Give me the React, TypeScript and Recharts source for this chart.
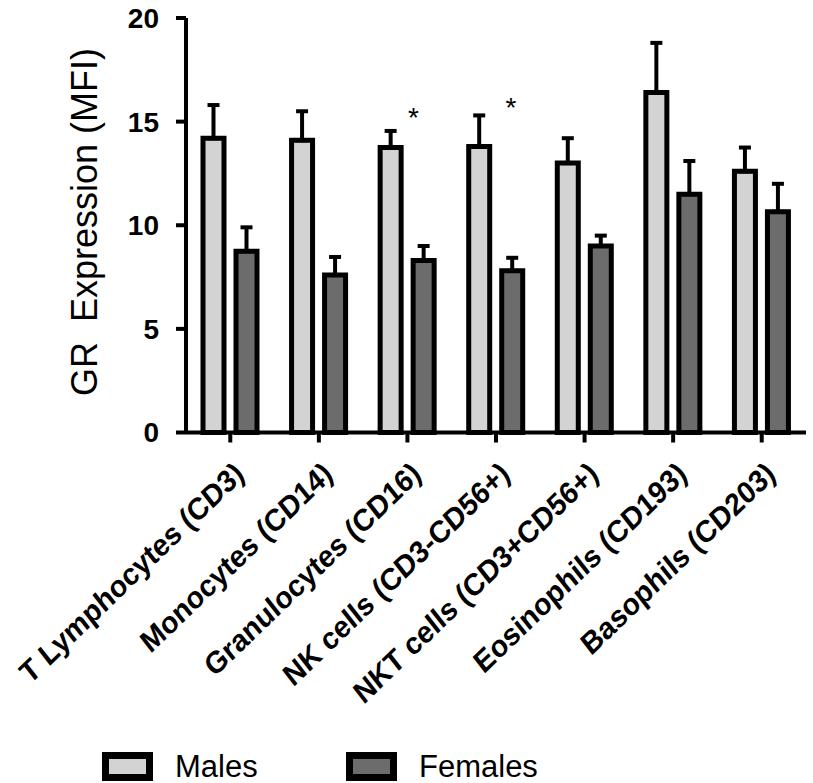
import React from "react";
import {
  BarChart,
  Bar,
  XAxis,
  YAxis,
  ErrorBar,
  Legend,
  ReferenceDot,
} from "recharts";

const categories = [
  "T Lymphocytes (CD3)",
  "Monocytes (CD14)",
  "Granulocytes (CD16)",
  "NK cells (CD3-CD56+)",
  "NKT cells (CD3+CD56+)",
  "Eosinophils (CD193)",
  "Basophils (CD203)",
];
const males = [14.2, 14.1, 13.75, 13.8, 13.0, 16.4, 12.6];
const maleErr = [1.6, 1.4, 0.8, 1.5, 1.2, 2.4, 1.15];
const females = [8.75, 7.6, 8.3, 7.8, 9.0, 11.5, 10.65];
const femaleErr = [1.15, 0.87, 0.7, 0.63, 0.5, 1.6, 1.35];
const yTicks = [0, 5, 10, 15, 20];
const starCats = [categories[2], categories[3]];
const starValues = [15.5, 16.0];

const FONT = "Arial, 'Liberation Sans', sans-serif";
const MALE_FILL = "#d3d3d3";
const FEMALE_FILL = "#6c6c6c";
const starShift = [6, 15];

const data = categories.map((name, i) => ({
  name,
  males: males[i],
  females: females[i],
  maleErr: [0, maleErr[i]],
  femaleErr: [0, femaleErr[i]],
}));

// the original figure is slightly squeezed sideways, which makes the slanted labels lean
const XTick = (props: any) => {
  const { x, y, payload } = props;
  return (
    <g transform={`translate(${x + 9},${y + 26})`}>
      <text
        transform="scale(0.9,1) rotate(-41)"
        textAnchor="end"
        dy="0.35em"
        fontFamily={FONT}
        fontSize={31}
        fontWeight="bold"
        fill="#000"
      >
        {payload.value}
      </text>
    </g>
  );
};

const LegendBox = ({ fill, left, label }: { fill: string; left: number; label: string }) => (
  <div style={{ position: "absolute", left, top: 0, height: 31, display: "flex", alignItems: "center" }}>
    <div
      style={{
        width: 51,
        height: 29,
        boxSizing: "border-box",
        border: "7px solid #000",
        background: fill,
      }}
    />
    <span
      style={{
        marginLeft: 22,
        fontFamily: FONT,
        fontSize: 31,
        lineHeight: "31px",
        color: "#000",
      }}
    >
      {label}
    </span>
  </div>
);

const renderLegend = () => (
  <div style={{ position: "relative", width: 500, height: 31 }}>
    <LegendBox fill={MALE_FILL} left={0} label="Males" />
    <LegendBox fill={FEMALE_FILL} left={244} label="Females" />
  </div>
);

export default function App() {
  return (
    <div style={{ position: "absolute", left: 0, top: 0, background: "#fff" }}>
      <BarChart
        width={813}
        height={783}
        data={data}
        margin={{ top: 18, right: 7, left: 0, bottom: 0 }}
        barSize={21}
        barGap={12}
      >
        <XAxis
          dataKey="name"
          height={350.5}
          interval={0}
          tickSize={10}
          tickMargin={0}
          axisLine={{ stroke: "#000", strokeWidth: 4 }}
          tickLine={{ stroke: "#000", strokeWidth: 4 }}
          tick={<XTick />}
        />
        <YAxis
          width={186}
          domain={[0, 20]}
          ticks={yTicks}
          tickSize={10}
          tickMargin={17}
          axisLine={{ stroke: "#000", strokeWidth: 4 }}
          tickLine={{ stroke: "#000", strokeWidth: 4 }}
          tick={{ fill: "#000", fontFamily: FONT, fontSize: 28, fontWeight: "bold" }}
          label={{
            content: () => (
              <text
                x={84}
                y={222}
                transform="rotate(-90 84 222)"
                textAnchor="middle"
                dominantBaseline="central"
                fontFamily={FONT}
                fontSize={36}
                fill="#000"
                style={{ whiteSpace: "pre" }}
              >
                {"GR  Expression (MFI)"}
              </text>
            ),
          }}
        />
        <Bar dataKey="males" fill={MALE_FILL} stroke="#000" strokeWidth={5} isAnimationActive={false}>
          <ErrorBar dataKey="maleErr" width={6} stroke="#000" strokeWidth={4} isAnimationActive={false} />
        </Bar>
        <Bar dataKey="females" fill={FEMALE_FILL} stroke="#000" strokeWidth={5} isAnimationActive={false}>
          <ErrorBar dataKey="femaleErr" width={6} stroke="#000" strokeWidth={4} isAnimationActive={false} />
        </Bar>
        {starCats.map((cat, i) => (
          <ReferenceDot
            key={cat}
            x={cat}
            y={starValues[i]}
            r={0}
            shape={(p: any) => (
              <text
                x={p.cx + starShift[i]}
                y={p.cy + 16}
                textAnchor="middle"
                fontFamily={FONT}
                fontSize={28}
                fill="#000"
              >
                *
              </text>
            )}
          />
        ))}
        <Legend
          layout="vertical"
          align="center"
          verticalAlign="middle"
          wrapperStyle={{ left: 102, top: 751, width: 520 }}
          content={renderLegend}
        />
      </BarChart>
    </div>
  );
}
